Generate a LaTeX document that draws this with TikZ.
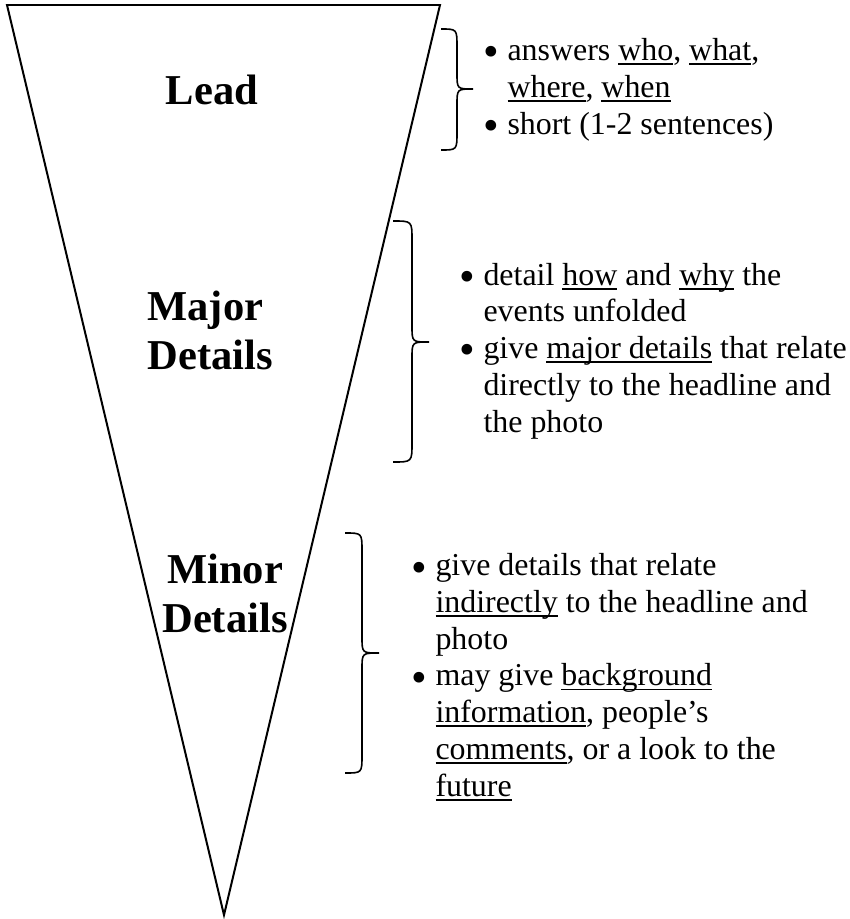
\documentclass[tikz,border=0pt]{standalone}
\usepackage{fontspec}
\setmainfont{Liberation Serif}
\usepackage{tikz}

% underlined word, line a little below the baseline
\newsavebox{\ulbox}
\newcommand{\uln}[1]{\sbox{\ulbox}{#1}\rlap{\rule[-1.7pt]{\wd\ulbox}{0.7pt}}\usebox{\ulbox}}
% bullet hanging in the left margin of a note line
\newcommand{\itm}{\llap{\makebox[9pt][l]{\raisebox{-2.4pt}{\scalebox{1.4}{\textbullet}}}}}

\begin{document}
\begin{tikzpicture}[x=0.376pt, y=-0.376pt,
  funnel/.style={line width=0.75pt},
  curly/.style={line width=0.6pt},
  heading/.style={font=\fontsize{16}{18.4}\selectfont\bfseries, inner sep=0pt},
  notes/.style={font=\fontsize{12}{13.8}\selectfont, align=left, anchor=base west, inner sep=0pt}]
\useasboundingbox (0,0) rectangle (850,919);

% Funnel
\draw[funnel] (7,5) -- (440,5) -- (224,915) -- cycle;

% Lead (base of a multi-line node = its last line)
\node[heading, anchor=base] (lead) at (212,104) {Lead};
\draw[curly] (441,29) .. controls (457,29) .. (457,47) -- (457,73)
  .. controls (457,89) .. (473,89) .. controls (457,89) .. (457,105)
  -- (457,132) .. controls (457,150) .. (441,150);
\node[notes] (leadnotes) at (507,134) {\itm answers \uln{who}, \uln{what},\\
\uln{where}, \uln{when}\\
\itm short (1-2 sentences)};

% Major details
\node[heading, align=left, anchor=base west] (major) at (147,369) {Major\\Details};
\draw[curly] (393,221) .. controls (412,221) .. (412,240) -- (412,326)
  .. controls (412,342) .. (429,342) .. controls (412,342) .. (412,358)
  -- (412,443) .. controls (412,462) .. (393,462);
\node[notes] (majornotes) at (483,432) {\itm detail \uln{how} and \uln{why} the\\
events unfolded\\
\itm give \uln{major details} that relate\\
directly to the headline and\\
the photo};

% Minor details
\node[heading, align=center, anchor=base] (minor) at (225,632) {Minor\\Details};
\draw[curly] (345,533) .. controls (362,533) .. (362,551) -- (362,637)
  .. controls (362,653) .. (379,653) .. controls (362,653) .. (362,669)
  -- (362,755) .. controls (362,773) .. (345,773);
\node[notes] (minornotes) at (435,796) {\itm give details that relate\\
\uln{indirectly} to the headline and\\
photo\\
\itm may give \uln{background}\\
\uln{information}, people’s\\
\uln{comments}, or a look to the\\
\uln{future}};
\end{tikzpicture}
\end{document}
